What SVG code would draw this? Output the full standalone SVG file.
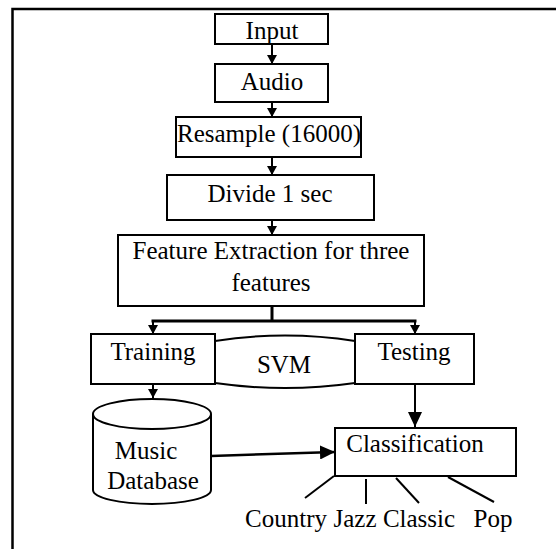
<svg xmlns="http://www.w3.org/2000/svg" width="556" height="549" viewBox="0 0 556 549">
<style>
.box{fill:#fff;stroke:#000;stroke-width:2}
.c{fill:none;stroke:#000;stroke-width:2}
.t{font-family:'Liberation Serif','Times New Roman',serif;font-size:25px;text-anchor:middle;fill:#000}
</style>
<defs>
<marker id="ah" markerUnits="userSpaceOnUse" markerWidth="9" markerHeight="10" refX="9" refY="5" orient="auto">
<path d="M0,0 L9,5 L0,10 z" fill="#000"/>
</marker>
<marker id="ahb" markerUnits="userSpaceOnUse" markerWidth="15" markerHeight="14" refX="15" refY="7" orient="auto">
<path d="M0,0 L15,7 L0,14 z" fill="#000"/>
</marker>
</defs>
<rect width="556" height="549" fill="#fff"/>
<g id="frame">
<path d="M556,9 H12.5 V549" fill="none" stroke="#000" stroke-width="2.5"/>
</g>
<g id="connectors">
<line class="c" x1="272" y1="44" x2="272" y2="64" marker-end="url(#ah)"/>
<line class="c" x1="272" y1="102" x2="272" y2="117" marker-end="url(#ah)"/>
<line class="c" x1="272" y1="157" x2="272" y2="175" marker-end="url(#ah)"/>
<line class="c" x1="272" y1="220" x2="272" y2="235" marker-end="url(#ah)"/>
<line x1="272" y1="306" x2="272" y2="321" stroke="#000" stroke-width="3"/>
<line x1="151.5" y1="321" x2="416.5" y2="321" stroke="#000" stroke-width="3"/>
<line class="c" x1="153" y1="321" x2="153" y2="334" marker-end="url(#ah)"/>
<line class="c" x1="415" y1="321" x2="415" y2="334" marker-end="url(#ah)"/>
<line class="c" x1="153" y1="384" x2="153" y2="398" marker-end="url(#ah)"/>
<line class="c" x1="415" y1="384" x2="415" y2="427" marker-end="url(#ahb)"/>
<line x1="211" y1="456" x2="335" y2="452" stroke="#000" stroke-width="2.5" marker-end="url(#ahb)"/>
<line class="c" x1="334" y1="476" x2="305" y2="498"/>
<line class="c" x1="366" y1="479" x2="366" y2="504"/>
<line class="c" x1="396" y1="478" x2="419" y2="503"/>
<line class="c" x1="448" y1="477" x2="494" y2="502"/>
</g>
<g id="input">
<rect class="box" x="215" y="14" width="113" height="30"/>
<text class="t" x="272" y="39">Input</text>
</g>
<g id="audio">
<rect class="box" x="215" y="64" width="113" height="38"/>
<text class="t" x="272" y="90">Audio</text>
</g>
<g id="resample">
<rect class="box" x="176" y="117" width="185" height="40"/>
<text class="t" x="269" y="142">Resample (16000)</text>
</g>
<g id="divide">
<rect class="box" x="167" y="175" width="207" height="45"/>
<text class="t" x="270" y="202">Divide 1 sec</text>
</g>
<g id="feature">
<rect class="box" x="118" y="235" width="306" height="71"/>
<text class="t" x="271" y="259">Feature Extraction for three</text>
<text class="t" x="271" y="291">features</text>
</g>
<g id="svm">
<path class="c" d="M215,341 Q285,330 355,341"/>
<path class="c" d="M215,383 Q285,393 355,383"/>
<text class="t" x="284" y="373">SVM</text>
</g>
<g id="training">
<rect class="box" x="91" y="334" width="124" height="50"/>
<text class="t" x="153" y="360">Training</text>
</g>
<g id="testing">
<rect class="box" x="355" y="334" width="119" height="50"/>
<text class="t" x="414" y="360">Testing</text>
</g>
<g id="database">
<path class="box" d="M93,414 V490 A59,14 0 0 0 211,490 V414"/>
<ellipse class="box" cx="152" cy="414" rx="59" ry="15"/>
<text class="t" x="146" y="459">Music</text>
<text class="t" x="153" y="489">Database</text>
</g>
<g id="classification">
<rect class="box" x="335" y="428" width="181" height="48"/>
<text class="t" x="415" y="452">Classification</text>
</g>
<g id="labels">
<text class="t" x="286" y="527">Country</text>
<text class="t" x="355" y="527">Jazz</text>
<text class="t" x="419" y="527">Classic</text>
<text class="t" x="493" y="527">Pop</text>
</g>
</svg>
